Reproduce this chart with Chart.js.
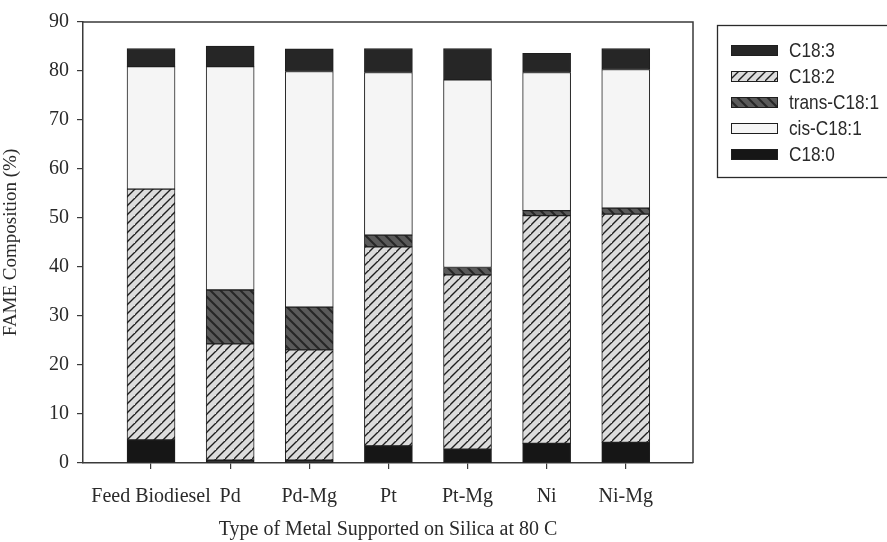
<!DOCTYPE html>
<html>
<head>
<meta charset="utf-8">
<script src="https://cdn.jsdelivr.net/npm/chart.js@4"></script>
<style>
  html, body { margin: 0; padding: 0; background: #fff; }
  #wrap { width: 887px; height: 542px; position: relative; }
</style>
</head>
<body>
<div id="wrap"><canvas id="c" width="887" height="542"></canvas></div>
<script>
// Catalyst samples along the x axis
const categories = ['Feed Biodiesel', 'Pd', 'Pd-Mg', 'Pt', 'Pt-Mg', 'Ni', 'Ni-Mg'];

// FAME composition (%) per fatty acid, stacked bottom to top
const c180 = [4.7, 0.6, 0.6, 3.5, 2.8, 4.0, 4.2];
const c182 = [51.2, 23.7, 22.5, 40.6, 35.6, 46.5, 46.6];
const transC181 = [0, 11.0, 8.7, 2.4, 1.5, 1.0, 1.2];
const cisC181 = [25.0, 45.6, 48.1, 33.2, 38.3, 28.2, 28.3];
const c183 = [3.7, 4.2, 4.6, 4.9, 6.4, 3.9, 4.3];

const yTicks = [0, 10, 20, 30, 40, 50, 60, 70, 80, 90];

const FONT = '"Liberation Serif", "Times New Roman", serif';
const KEY_FONT = '"Liberation Sans", Arial, sans-serif';
const INK = '#2a2a2a';

// Fill patterns
function hatch(bg, line, size, dir, width) {
  const cv = document.createElement('canvas');
  cv.width = size; cv.height = size;
  const g = cv.getContext('2d');
  g.fillStyle = bg; g.fillRect(0, 0, size, size);
  g.strokeStyle = line; g.lineWidth = width; g.lineCap = 'square';
  g.beginPath();
  if (dir > 0) {
    g.moveTo(-1, size + 1); g.lineTo(size + 1, -1);
    g.moveTo(-1 - size, size + 1); g.lineTo(1, -1);
    g.moveTo(size - 1, 2 * size + 1); g.lineTo(2 * size + 1, size - 1);
  } else {
    g.moveTo(-1, -1); g.lineTo(size + 1, size + 1);
    g.moveTo(-1 - size, -1); g.lineTo(1, size + 1);
    g.moveTo(size - 1, -1); g.lineTo(2 * size + 1, size + 1);
  }
  g.stroke();
  return g.createPattern(cv, 'repeat');
}
const ctx0 = document.getElementById('c').getContext('2d');
const fillC182 = hatch('#dcdcdc', '#1e1e1e', 9, 1, 1.4);
const fillTrans = hatch('#5a5a5a', '#262626', 10, -1, 2);
const fillCis = '#f5f5f5';
const fillC183 = '#262626';
const fillC180 = '#161616';

function series(label, values, fill) {
  return {
    label,
    data: values.map((v, i) => ({ x: i, y: v })),
    backgroundColor: fill,
    borderColor: '#1e1e1e',
    borderWidth: 1,
    borderSkipped: false,
    barThickness: 48
  };
}

const datasets = [
  series('C18:0', c180, fillC180),
  series('C18:2', c182, fillC182),
  series('trans-C18:1', transC181, fillTrans),
  series('cis-C18:1', cisC181, fillCis),
  series('C18:3', c183, fillC183)
];

const legendOrder = ['C18:3', 'C18:2', 'trans-C18:1', 'cis-C18:1', 'C18:0'];

// Frame around the plotting area and the boxed key at the right
const framePlugin = {
  id: 'frame',
  afterDraw(chart) {
    const { ctx, chartArea: a } = chart;
    ctx.save();
    ctx.strokeStyle = '#3a3a3a';
    ctx.lineWidth = 1.5;
    ctx.beginPath();
    ctx.moveTo(a.left, a.top); ctx.lineTo(a.right, a.top); ctx.lineTo(a.right, a.bottom);
    ctx.stroke();

    // key box
    const bx = 717, by = 25, bw = 190, bh = 152;
    ctx.lineWidth = 1.3;
    ctx.strokeStyle = '#2a2a2a';
    ctx.strokeRect(bx + 0.5, by + 0.5, bw, bh);

    ctx.font = '21px ' + KEY_FONT;
    ctx.textBaseline = 'middle';
    ctx.textAlign = 'left';
    legendOrder.forEach((name, k) => {
      const ds = chart.data.datasets.find(d => d.label === name);
      const cy = 50 + k * 26;
      ctx.fillStyle = ds.backgroundColor;
      ctx.fillRect(731, cy - 5, 47, 11);
      ctx.lineWidth = 1;
      ctx.strokeStyle = '#1e1e1e';
      ctx.strokeRect(731.5, cy - 4.5, 46, 10);
      ctx.save();
      ctx.translate(789, cy + 1);
      ctx.scale(0.82, 1);
      ctx.fillStyle = INK;
      ctx.fillText(name, 0, 0);
      ctx.restore();
    });
    ctx.restore();
  }
};

new Chart(ctx0, {
  type: 'bar',
  data: { datasets },
  plugins: [framePlugin],
  options: {
    responsive: false,
    animation: false,
    devicePixelRatio: 1,
    layout: { padding: { top: 22, right: 194, left: 0, bottom: 0 } },
    plugins: { legend: { display: false }, tooltip: { enabled: false } },
    scales: {
      x: {
        type: 'linear',
        stacked: true,
        offset: false,
        min: -0.86,
        max: 6.85,
        afterBuildTicks(scale) { scale.ticks = categories.map((_, i) => ({ value: i })); },
        afterFit(scale) { scale.height = 79; },
        ticks: {
          callback: (v) => categories[v] ?? '',
          color: INK,
          font: { family: FONT, size: 20 },
          padding: 16,
          maxRotation: 0,
          autoSkip: false
        },
        grid: { offset: false, drawOnChartArea: false, tickLength: 6, color: '#3a3a3a', lineWidth: 1.2 },
        border: { color: '#3a3a3a', width: 1.5 },
        title: {
          display: true,
          text: 'Type of Metal Supported on Silica at 80 C',
          color: INK,
          font: { family: FONT, size: 20 },
          padding: { top: 0, bottom: 0 }
        }
      },
      y: {
        stacked: true,
        min: 0,
        max: 90,
        afterBuildTicks(scale) { scale.ticks = yTicks.map(v => ({ value: v })); },
        afterFit(scale) { scale.width = 83; },
        ticks: {
          color: INK,
          font: { family: FONT, size: 20 },
          padding: 8
        },
        grid: { drawOnChartArea: false, tickLength: 6, color: '#3a3a3a', lineWidth: 1.2 },
        border: { color: '#3a3a3a', width: 1.5 },
        title: {
          display: true,
          text: 'FAME Composition (%)',
          color: INK,
          font: { family: FONT, size: 19 },
          padding: { top: 0, bottom: 2 }
        }
      }
    }
  }
});
</script>
</body>
</html>
